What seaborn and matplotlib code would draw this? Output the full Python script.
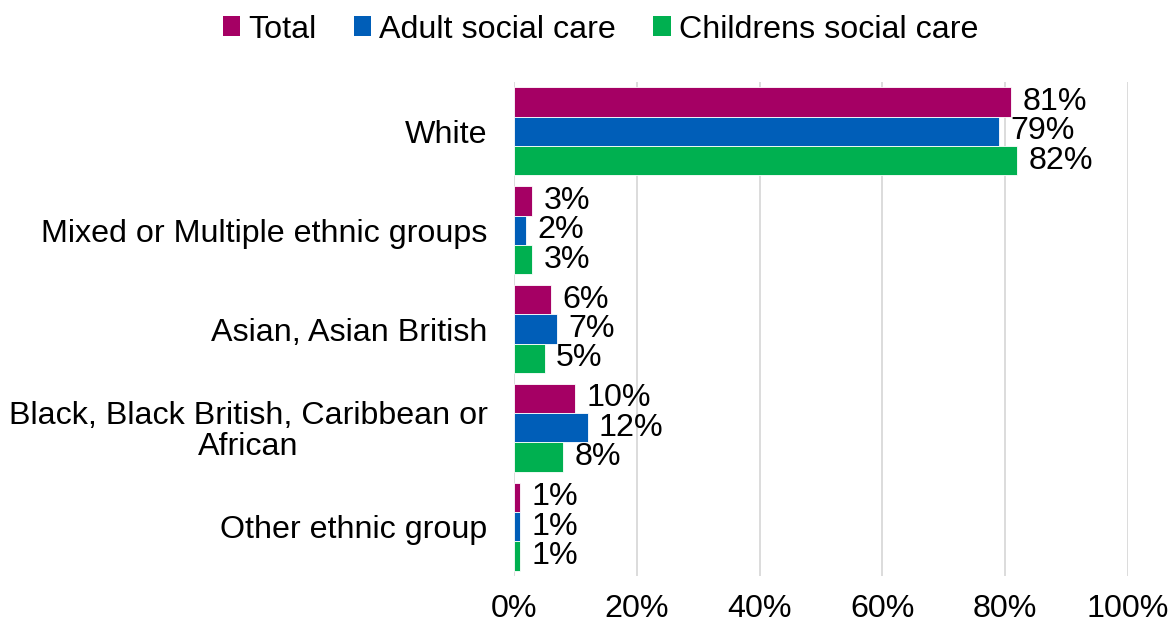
import matplotlib
matplotlib.use("Agg")
import matplotlib.pyplot as plt
import seaborn as sns
import pandas as pd
from matplotlib.patches import Patch

# Ethnicity breakdown of the social care workforce (percent)
categories = [
    "White",
    "Mixed or Multiple ethnic groups",
    "Asian, Asian British",
    "Black, Black British, Caribbean or\nAfrican",
    "Other ethnic group",
]
series_names = ["Total", "Adult social care", "Childrens social care"]
total = [81, 3, 6, 10, 1]
adult = [79, 2, 7, 12, 1]
children = [82, 3, 5, 8, 1]
x_ticks = [0, 20, 40, 60, 80, 100]
x_tick_labels = ["0%", "20%", "40%", "60%", "80%", "100%"]

colors = ["#A50064", "#005EB8", "#00B050"]
FS = 23.2

df = pd.DataFrame({
    "category": categories * 3,
    "series": [s for s in series_names for _ in categories],
    "value": total + adult + children,
})

sns.set_theme(style="white")
plt.rcParams["font.family"] = ["Liberation Sans", "DejaVu Sans"]
plt.rcParams["text.color"] = "black"
plt.rcParams["xtick.color"] = "black"
plt.rcParams["ytick.color"] = "black"

fig = plt.figure(figsize=(11.75, 6.28), dpi=100)
ax = fig.add_axes([0.4374, 0.0828, 0.5226, 0.7866])

sns.barplot(
    data=df, y="category", x="value", hue="series",
    order=categories, hue_order=series_names, palette=colors,
    saturation=1, orient="h", width=0.89, edgecolor="white", linewidth=0.6,
    legend=False, ax=ax,
)

# Value labels just past each bar end
for container in ax.containers:
    ax.bar_label(container, labels=[f"{v:.0f}%" for v in container.datavalues],
                 padding=8, fontsize=FS, color="black")

ax.set_xlim(0, 100)
ax.set_ylim(4.5, -0.5)
ax.set_xticks(x_ticks)
ax.set_xticklabels(x_tick_labels, fontsize=FS)
ax.tick_params(axis="x", length=0, pad=13)
ax.tick_params(axis="y", length=0, pad=19, labelsize=FS)
for lbl in ax.get_yticklabels():
    lbl.set_multialignment("center")
    lbl.set_linespacing(1.05)
ax.set_xlabel("")
ax.set_ylabel("")
ax.grid(axis="x", color="#D9D9D9", linewidth=1.3)
ax.set_axisbelow(True)
for s in ax.spines.values():
    s.set_visible(False)

handles = [Patch(facecolor=c, edgecolor="none") for c in colors]
fig.legend(handles, series_names, loc="upper center", bbox_to_anchor=(0.511, 1.023),
           ncol=3, frameon=False, fontsize=FS, handlelength=0.55, handleheight=0.55,
           handletextpad=0.25, columnspacing=1.15)

fig.savefig("out.png", dpi=100)
